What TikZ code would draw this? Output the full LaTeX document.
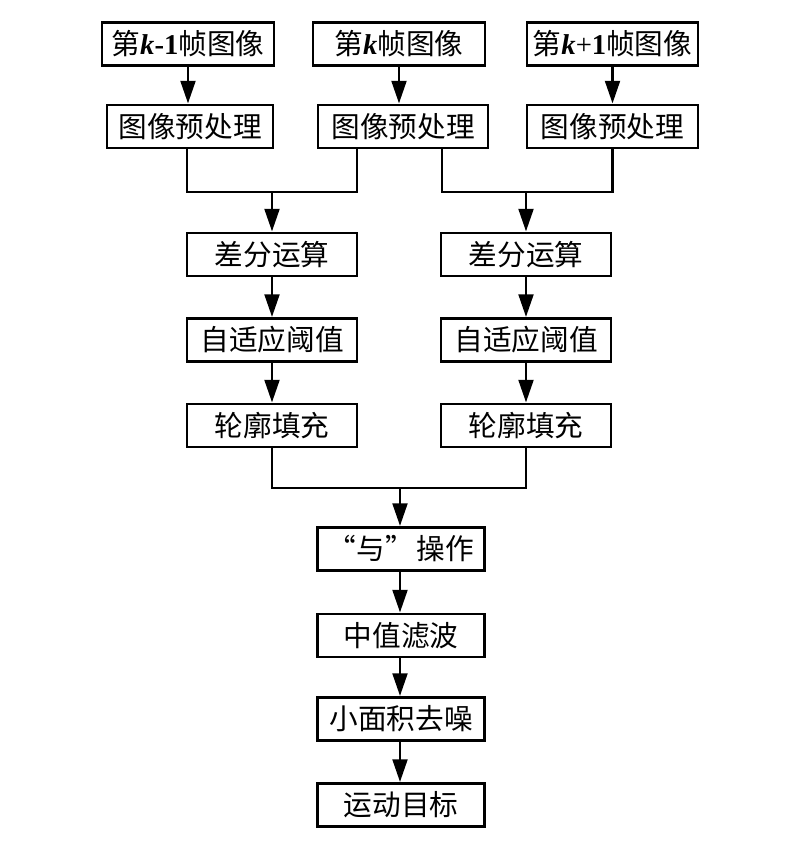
\documentclass[tikz,border=0pt]{standalone}
\usepackage{fontspec}
\setmainfont{Noto Sans CJK SC}
\newfontfamily\lat{Liberation Serif}
\usetikzlibrary{arrows.meta}
\tikzset{
  box/.style={draw, line width=2.2pt, minimum width=127.5pt, minimum height=32.25pt, inner sep=0pt, font=\fontsize{21.5pt}{23pt}\selectfont},
  conn/.style={line width=2.2pt},
  arr/.style={line width=2.2pt, -{Triangle[length=17pt,width=11pt]}}
}
\newcommand{\kk}{{\lat\bfseries\itshape k}}
\begin{document}
\begin{tikzpicture}[x=0.75pt,y=-0.75pt]
\useasboundingbox (0,0) rectangle (800,849);
% row 1
\node[box, minimum width=129pt] (f1) at (188,44) {第\kk{\lat\bfseries -1}帧图像};
\node[box, minimum width=129pt] (f2) at (399,44) {第\kk 帧图像};
\node[box, minimum width=128.25pt] (f3) at (612.5,44) {第\kk{\lat +\bfseries 1}帧图像};
% row 2
\node[box, minimum width=124.5pt] (p1) at (190,126.5) {图像预处理};
\node[box] (p2) at (403,126.5) {图像预处理};
\node[box, minimum width=128.25pt] (p3) at (612.5,126.5) {图像预处理};
% left column
\node[box] (d1) at (272,254.5) {差分运算};
\node[box] (t1) at (272,340) {自适应阈值};
\node[box] (c1) at (272,425.5) {轮廓填充};
% right column
\node[box] (d2) at (526,254.5) {差分运算};
\node[box] (t2) at (526,340) {自适应阈值};
\node[box] (c2) at (526,425.5) {轮廓填充};
% center column
\node[box, minimum width=125.25pt] (a) at (401,549) {“与”\hspace{0.1em}操作};
\node[box, minimum width=125.25pt] (m) at (401,635.5) {中值滤波};
\node[box, minimum width=125.25pt] (s) at (401,719) {小面积去噪};
\node[box, minimum width=125.25pt] (g) at (401,805) {运动目标};
% junctions
\coordinate (j1) at (272,192);
\coordinate (j2) at (526,192);
\coordinate (j3) at (400,488);
% arrows top
\draw[arr] (f1.south) -- (f1.south |- p1.north);
\draw[arr] (f2.south) -- (f2.south |- p2.north);
\draw[arr] (f3.south) -- (f3.south |- p3.north);
% merges
\draw[conn] ([xshift=-2.25pt]p1.south) |- (j1) -| ([xshift=-34.5pt]p2.south);
\draw[conn] ([xshift=29.25pt]p2.south) |- (j2) -| (p3.south);
\draw[arr] (j1) -- (j1 |- d1.north);
\draw[arr] (j2) -- (j2 |- d2.north);
% columns
\draw[arr] (d1) -- (t1);
\draw[arr] (t1) -- (c1);
\draw[arr] (d2) -- (t2);
\draw[arr] (t2) -- (c2);
\draw[conn] (c1.south) |- (j3) -| (c2.south);
\draw[arr] (j3) -- (j3 |- a.north);
\draw[arr] (a.south -| j3) -- (j3 |- m.north);
\draw[arr] (m.south -| j3) -- (j3 |- s.north);
\draw[arr] (s.south -| j3) -- (j3 |- g.north);
\end{tikzpicture}
\end{document}
